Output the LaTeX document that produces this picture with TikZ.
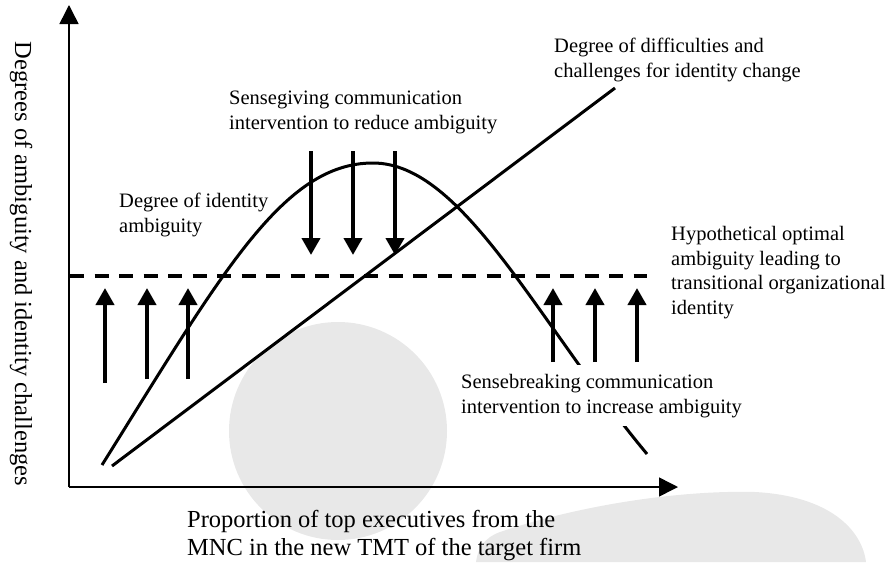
\documentclass[tikz,border=0pt]{standalone}
\usepackage{fontspec}
\setmainfont{Liberation Serif}
\usetikzlibrary{arrows.meta}
\begin{document}
\begin{tikzpicture}[x=1pt,y=-1pt,
  lbl/.style={anchor=base west, align=left, inner sep=0pt,
    font=\fontsize{20.5}{24.5}\selectfont},
  axlbl/.style={align=left, inner sep=0pt,
    font=\fontsize{24.5}{27.5}\selectfont},
  axisline/.style={line width=1.5pt, -{Triangle[length=19pt,width=19pt]}},
  trend/.style={line width=3pt},
  push/.style={line width=4pt, -{Triangle[length=17pt,width=18pt]}},
  optimum/.style={line width=3.5pt, dash pattern=on 14pt off 10.5pt},
  shade/.style={fill=black!9, draw=none}]
\useasboundingbox (0,0) rectangle (893,562);

% pale background shapes
\fill[shade] (338,431) circle[radius=109];
\fill[shade] (476,562) .. controls (478,548) and (484,538) .. (500,532)
  .. controls (580,505) and (680,490) .. (755,492)
  .. controls (830,496) and (862,530) .. (866,562) -- cycle;

% axes
\coordinate (O) at (69,487);
\coordinate (ytop) at (69,5);
\coordinate (xend) at (678,487);
\draw[axisline] (O) -- (ytop);
\draw[axisline] (O) -- (xend);

% difficulty line and ambiguity curve
\coordinate (d0) at (112,466);
\coordinate (d1) at (615,88);
\draw[trend] (d0) -- (d1);
\coordinate (a0) at (102,465);
\coordinate (apeak) at (373,163);
\coordinate (a1) at (647,454);
\draw[trend] (a0) .. controls (222,273) and (283,163) .. (apeak)
  .. controls (463,163) and (537,322) .. (a1);

% optimal ambiguity level
\coordinate (h0) at (70,276);
\coordinate (h1) at (647,276);
\draw[optimum] (h0) -- (h1);

% sensegiving arrows (down)
\foreach \i/\x in {1/311,2/353,3/395}{
  \coordinate (g\i s) at (\x,151);
  \coordinate (g\i e) at (\x,255);
  \draw[push] (g\i s) -- (g\i e);
}
% sensebreaking arrows (up)
\foreach \i/\x/\y in {1/105/383,2/147/379,3/188/379,4/553/362,5/595/362,6/637/362}{
  \coordinate (b\i s) at (\x,\y);
  \coordinate (b\i e) at (\x,288);
  \draw[push] (b\i s) -- (b\i e);
}

% labels (anchored at the baseline of their last line)
\node[lbl] (ldiff) at (554,77) {Degree of difficulties and\\challenges for identity change};
\node[lbl] (lgive) at (229,129) {Sensegiving communication\\intervention to reduce ambiguity};
\node[lbl] (lamb) at (119,232) {Degree of identity\\ambiguity};
\node[lbl] (lopt) at (671,314) {Hypothetical optimal\\ambiguity leading to\\transitional organizational\\identity};
\node[lbl, fill=white, inner xsep=6pt, inner ysep=9pt] (lbreak) at (455,413)
  {Sensebreaking communication\\intervention to increase ambiguity};

\node[axlbl, anchor=base west] (xl) at (187,555)
  {Proportion of top executives from the\\MNC in the new TMT of the target firm};
\node[axlbl, rotate=-90, anchor=base] (yl) at (15,264)
  {Degrees of ambiguity and identity challenges};
\end{tikzpicture}
\end{document}
